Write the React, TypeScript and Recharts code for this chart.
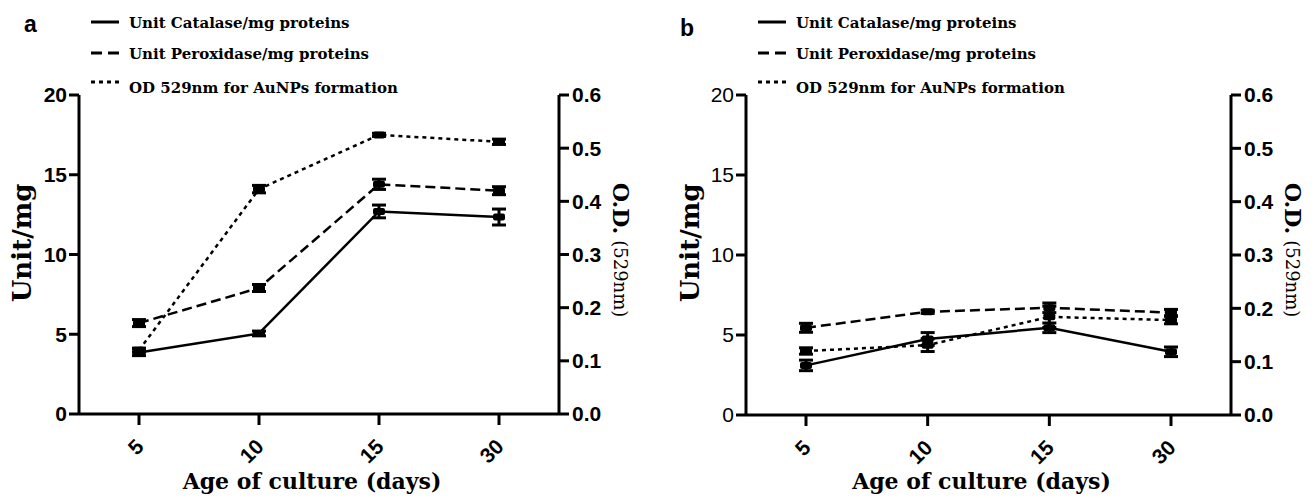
import { LineChart, Line, XAxis, YAxis, ErrorBar } from 'recharts'

// ages of culture (days)
const days = ['5', '10', '15', '30']

// panel a
const catalaseA = [3.86, 5.05, 12.7, 12.35]
const catalaseErrA = [0.2, 0.15, 0.4, 0.5]
const peroxidaseA = [5.7, 7.9, 14.4, 14.0]
const peroxidaseErrA = [0.22, 0.22, 0.32, 0.25]
const odA = [0.12, 0.423, 0.525, 0.512]
const odErrA = [0.004, 0.007, 0.003, 0.005]

// panel b
const catalaseB = [3.1, 4.75, 5.45, 3.95]
const catalaseErrB = [0.33, 0.4, 0.3, 0.3]
const peroxidaseB = [5.45, 6.45, 6.7, 6.4]
const peroxidaseErrB = [0.28, 0.1, 0.3, 0.2]
const odB = [0.12, 0.131, 0.184, 0.178]
const odErrB = [0.006, 0.012, 0.02, 0.007]

const leftTicks = [0, 5, 10, 15, 20]
const rightTicks = [0, 0.1, 0.2, 0.3, 0.4, 0.5, 0.6]

const seriesNames = [
  'Unit Catalase/mg proteins',
  'Unit Peroxidase/mg proteins',
  'OD 529nm for AuNPs formation'
]

const buildRows = (cat: number[], catErr: number[], per: number[], perErr: number[], od: number[], odErr: number[]) =>
  days.map((d, i) => ({
    day: d,
    cat: cat[i],
    catErr: catErr[i],
    per: per[i],
    perErr: perErr[i],
    od: od[i],
    odErr: odErr[i]
  }))

const dataA = buildRows(catalaseA, catalaseErrA, peroxidaseA, peroxidaseErrA, odA, odErrA)
const dataB = buildRows(catalaseB, catalaseErrB, peroxidaseB, peroxidaseErrB, odB, odErrB)

const SANS = '"Liberation Sans", Arial, sans-serif'
const SERIF = '"DejaVu Serif", serif'

const Marker = (props: any) => {
  const { cx, cy, index } = props
  if (cx == null || cy == null) return <g key={index} />
  return <rect key={index} x={cx - 6} y={cy - 3.5} width={12} height={7} rx={2} fill="#000" />
}

const XTick = (props: any) => {
  const { x, y, payload } = props
  const ax = x + 6
  const ay = y + 23
  return (
    <text
      x={ax}
      y={ay}
      transform={`rotate(-45, ${ax}, ${ay})`}
      textAnchor="end"
      fontFamily={SANS}
      fontWeight="bold"
      fontSize={21}
      fill="#000"
    >
      {payload.value}
    </text>
  )
}

interface PanelProps {
  data: any[]
  width: number
  leftWidth: number
  rightWidth: number
  top: number
  xHeight: number
  boldLeft: boolean
}

const Panel = ({ data, width, leftWidth, rightWidth, top, xHeight, boldLeft }: PanelProps) => (
  <LineChart
    width={width}
    height={498}
    data={data}
    margin={{ top, right: 0, left: 0, bottom: 0 }}
  >
    <XAxis
      dataKey="day"
      height={xHeight}
      padding={{ left: 60, right: 60 }}
      axisLine={{ stroke: '#000', strokeWidth: 3 }}
      tickLine={{ stroke: '#000', strokeWidth: 3 }}
      tickSize={11}
      tickMargin={0}
      tick={<XTick />}
      interval={0}
    />
    <YAxis
      yAxisId="left"
      width={leftWidth}
      domain={[0, 20]}
      ticks={leftTicks}
      interval={0}
      axisLine={{ stroke: '#000', strokeWidth: 3 }}
      tickLine={{ stroke: '#000', strokeWidth: 3 }}
      tickSize={10}
      tickMargin={2}
      tick={{ fill: '#000', fontSize: 21, fontFamily: SANS, fontWeight: boldLeft ? 'bold' : 'normal' }}
    />
    <YAxis
      yAxisId="right"
      orientation="right"
      width={rightWidth}
      domain={[0, 0.6]}
      ticks={rightTicks}
      interval={0}
      tickFormatter={(v: number) => v.toFixed(1)}
      axisLine={{ stroke: '#000', strokeWidth: 3 }}
      tickLine={{ stroke: '#000', strokeWidth: 3 }}
      tickSize={10}
      tickMargin={3}
      tick={{ fill: '#000', fontSize: 21, fontFamily: SANS, fontWeight: 'bold' }}
    />
    <Line
      yAxisId="left"
      dataKey="cat"
      stroke="#000"
      strokeWidth={2.5}
      dot={<Marker />}
      isAnimationActive={false}
    >
      <ErrorBar dataKey="catErr" direction="y" width={7} stroke="#000" strokeWidth={3} isAnimationActive={false} />
    </Line>
    <Line
      yAxisId="left"
      dataKey="per"
      stroke="#000"
      strokeWidth={2.5}
      strokeDasharray="10 5"
      dot={<Marker />}
      isAnimationActive={false}
    >
      <ErrorBar dataKey="perErr" direction="y" width={7} stroke="#000" strokeWidth={3} isAnimationActive={false} />
    </Line>
    <Line
      yAxisId="right"
      dataKey="od"
      stroke="#000"
      strokeWidth={2.5}
      strokeDasharray="4 4"
      dot={<Marker />}
      isAnimationActive={false}
    >
      <ErrorBar dataKey="odErr" direction="y" width={7} stroke="#000" strokeWidth={3} isAnimationActive={false} />
    </Line>
  </LineChart>
)

// legend + axis titles drawn over each panel
const Decor = ({ letter, letterX, letterY, plotLeft, plotRight, unitX, odX }: any) => {
  const rows = [22, 53, 87]
  const sampleX = plotLeft + 12
  return (
    <g>
      <text x={letterX} y={letterY} fontFamily={SANS} fontWeight="bold" fontSize={23} fill="#000">{letter}</text>
      {seriesNames.map((name, i) => (
        <g key={name}>
          <line
            x1={sampleX}
            x2={sampleX + 28}
            y1={rows[i] - (i === 2 ? 5 : 0)}
            y2={rows[i] - (i === 2 ? 5 : 0)}
            stroke="#000"
            strokeWidth={3}
            strokeDasharray={i === 0 ? undefined : i === 1 ? '11 6' : '4 4'}
          />
          <text x={plotLeft + 50} y={rows[i] + 5.5} fontFamily={SERIF} fontWeight="bold" fontSize={15} fill="#000">
            {name}
          </text>
        </g>
      ))}
      <text
        x={unitX}
        y={243}
        transform={`rotate(-90, ${unitX}, 243)`}
        textAnchor="middle"
        dominantBaseline="central"
        fontFamily={SERIF}
        fontWeight="bold"
        fontSize={26}
        fill="#000"
      >
        Unit/mg
      </text>
      <text
        x={odX}
        y={250}
        transform={`rotate(90, ${odX}, 250)`}
        textAnchor="middle"
        dominantBaseline="central"
        fontFamily={SERIF}
        fill="#000"
      >
        <tspan fontWeight="bold" fontSize={22}>O.D.</tspan>
        <tspan fontSize={18} dx={6}>(529nm)</tspan>
      </text>
      <text
        x={(plotLeft + plotRight) / 2 - 7}
        y={489}
        textAnchor="middle"
        fontFamily={SERIF}
        fontWeight="bold"
        fontSize={22}
        fill="#000"
      >
        Age of culture (days)
      </text>
    </g>
  )
}

export default function App() {
  return (
    <div style={{ position: 'absolute', left: 0, top: 0, width: 1316, height: 498, background: '#fff', overflow: 'hidden' }}>
      <div style={{ position: 'absolute', left: 0, top: 0 }}>
        <Panel data={dataA} width={640} leftWidth={79} rightWidth={81} top={95} xHeight={84} boldLeft />
      </div>
      <div style={{ position: 'absolute', left: 660, top: 0 }}>
        <Panel data={dataB} width={656} leftWidth={86} rightWidth={85} top={95} xHeight={83} boldLeft={false} />
      </div>
      <svg width={1316} height={498} style={{ position: 'absolute', left: 0, top: 0, pointerEvents: 'none' }}>
        <Decor letter="a" letterX={24} letterY={32} plotLeft={79} plotRight={559} unitX={22} odX={621} />
        <Decor letter="b" letterX={680} letterY={36} plotLeft={746} plotRight={1231} unitX={690} odX={1293} />
      </svg>
    </div>
  )
}
